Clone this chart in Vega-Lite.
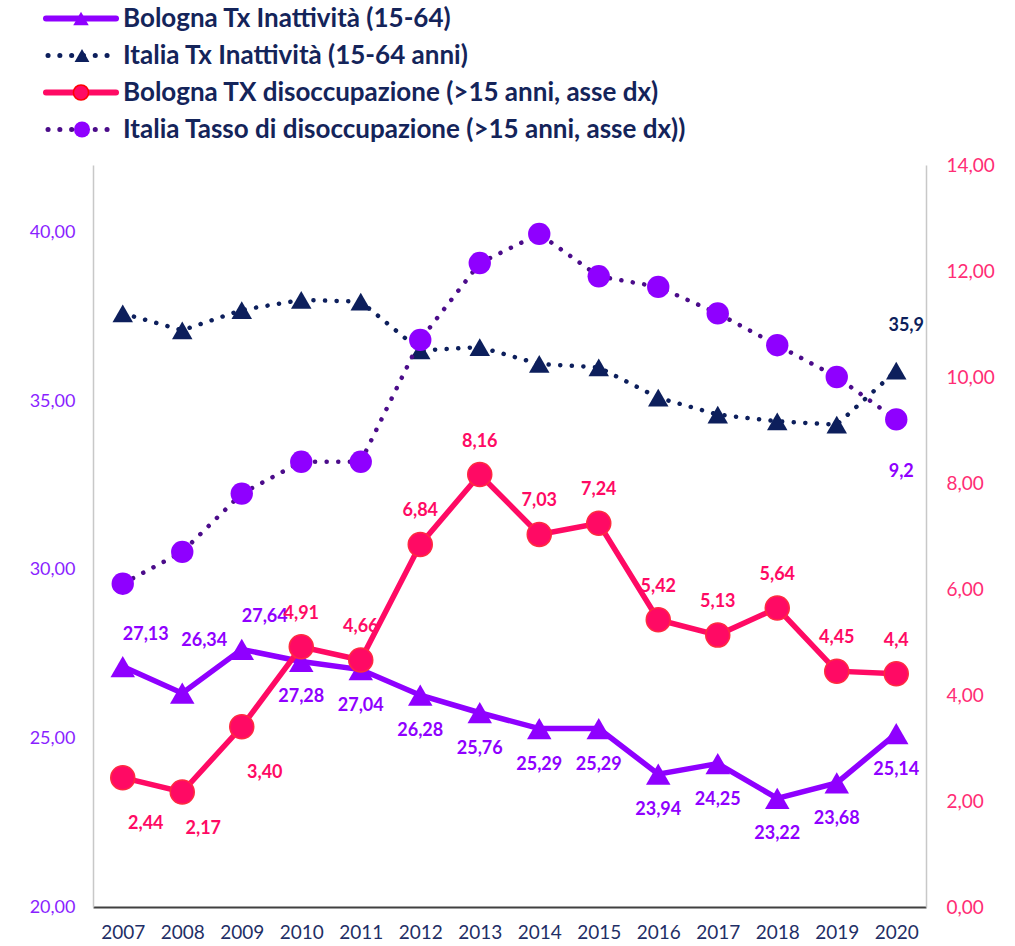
{
  "$schema": "https://vega.github.io/schema/vega-lite/v6.json",
  "padding": {"left": 0, "top": 0, "right": 0, "bottom": 0},
  "spacing": 8,
  "config": {
    "view": {"stroke": null},
    "font": "Lato",
    "locale": {"number": {"decimal": ",", "thousands": ".", "grouping": [3], "currency": ["€", ""]}}
  },
  "datasets": {
    "d": [
      {"year": 2007, "serie": "Bologna Tx Inattività (15-64)", "value": 27.13},
      {"year": 2008, "serie": "Bologna Tx Inattività (15-64)", "value": 26.34},
      {"year": 2009, "serie": "Bologna Tx Inattività (15-64)", "value": 27.64},
      {"year": 2010, "serie": "Bologna Tx Inattività (15-64)", "value": 27.28},
      {"year": 2011, "serie": "Bologna Tx Inattività (15-64)", "value": 27.04},
      {"year": 2012, "serie": "Bologna Tx Inattività (15-64)", "value": 26.28},
      {"year": 2013, "serie": "Bologna Tx Inattività (15-64)", "value": 25.76},
      {"year": 2014, "serie": "Bologna Tx Inattività (15-64)", "value": 25.29},
      {"year": 2015, "serie": "Bologna Tx Inattività (15-64)", "value": 25.29},
      {"year": 2016, "serie": "Bologna Tx Inattività (15-64)", "value": 23.94},
      {"year": 2017, "serie": "Bologna Tx Inattività (15-64)", "value": 24.25},
      {"year": 2018, "serie": "Bologna Tx Inattività (15-64)", "value": 23.22},
      {"year": 2019, "serie": "Bologna Tx Inattività (15-64)", "value": 23.68},
      {"year": 2020, "serie": "Bologna Tx Inattività (15-64)", "value": 25.14},
      {"year": 2007, "serie": "Italia Tx  Inattività  (15-64 anni)", "value": 37.6},
      {"year": 2008, "serie": "Italia Tx  Inattività  (15-64 anni)", "value": 37.1},
      {"year": 2009, "serie": "Italia Tx  Inattività  (15-64 anni)", "value": 37.7},
      {"year": 2010, "serie": "Italia Tx  Inattività  (15-64 anni)", "value": 38.0},
      {"year": 2011, "serie": "Italia Tx  Inattività  (15-64 anni)", "value": 37.95},
      {"year": 2012, "serie": "Italia Tx  Inattività  (15-64 anni)", "value": 36.5},
      {"year": 2013, "serie": "Italia Tx  Inattività  (15-64 anni)", "value": 36.6},
      {"year": 2014, "serie": "Italia Tx  Inattività  (15-64 anni)", "value": 36.1},
      {"year": 2015, "serie": "Italia Tx  Inattività  (15-64 anni)", "value": 36.0},
      {"year": 2016, "serie": "Italia Tx  Inattività  (15-64 anni)", "value": 35.1},
      {"year": 2017, "serie": "Italia Tx  Inattività  (15-64 anni)", "value": 34.6},
      {"year": 2018, "serie": "Italia Tx  Inattività  (15-64 anni)", "value": 34.4},
      {"year": 2019, "serie": "Italia Tx  Inattività  (15-64 anni)", "value": 34.3},
      {"year": 2020, "serie": "Italia Tx  Inattività  (15-64 anni)", "value": 35.9},
      {"year": 2007, "serie": "Bologna TX disoccupazione (>15 anni, asse dx)", "value": 2.44},
      {"year": 2008, "serie": "Bologna TX disoccupazione (>15 anni, asse dx)", "value": 2.17},
      {"year": 2009, "serie": "Bologna TX disoccupazione (>15 anni, asse dx)", "value": 3.40},
      {"year": 2010, "serie": "Bologna TX disoccupazione (>15 anni, asse dx)", "value": 4.91},
      {"year": 2011, "serie": "Bologna TX disoccupazione (>15 anni, asse dx)", "value": 4.66},
      {"year": 2012, "serie": "Bologna TX disoccupazione (>15 anni, asse dx)", "value": 6.84},
      {"year": 2013, "serie": "Bologna TX disoccupazione (>15 anni, asse dx)", "value": 8.16},
      {"year": 2014, "serie": "Bologna TX disoccupazione (>15 anni, asse dx)", "value": 7.03},
      {"year": 2015, "serie": "Bologna TX disoccupazione (>15 anni, asse dx)", "value": 7.24},
      {"year": 2016, "serie": "Bologna TX disoccupazione (>15 anni, asse dx)", "value": 5.42},
      {"year": 2017, "serie": "Bologna TX disoccupazione (>15 anni, asse dx)", "value": 5.13},
      {"year": 2018, "serie": "Bologna TX disoccupazione (>15 anni, asse dx)", "value": 5.64},
      {"year": 2019, "serie": "Bologna TX disoccupazione (>15 anni, asse dx)", "value": 4.45},
      {"year": 2020, "serie": "Bologna TX disoccupazione (>15 anni, asse dx)", "value": 4.4},
      {"year": 2007, "serie": "Italia Tasso di disoccupazione (>15 anni, asse dx))", "value": 6.1},
      {"year": 2008, "serie": "Italia Tasso di disoccupazione (>15 anni, asse dx))", "value": 6.7},
      {"year": 2009, "serie": "Italia Tasso di disoccupazione (>15 anni, asse dx))", "value": 7.8},
      {"year": 2010, "serie": "Italia Tasso di disoccupazione (>15 anni, asse dx))", "value": 8.4},
      {"year": 2011, "serie": "Italia Tasso di disoccupazione (>15 anni, asse dx))", "value": 8.4},
      {"year": 2012, "serie": "Italia Tasso di disoccupazione (>15 anni, asse dx))", "value": 10.7},
      {"year": 2013, "serie": "Italia Tasso di disoccupazione (>15 anni, asse dx))", "value": 12.15},
      {"year": 2014, "serie": "Italia Tasso di disoccupazione (>15 anni, asse dx))", "value": 12.7},
      {"year": 2015, "serie": "Italia Tasso di disoccupazione (>15 anni, asse dx))", "value": 11.9},
      {"year": 2016, "serie": "Italia Tasso di disoccupazione (>15 anni, asse dx))", "value": 11.7},
      {"year": 2017, "serie": "Italia Tasso di disoccupazione (>15 anni, asse dx))", "value": 11.2},
      {"year": 2018, "serie": "Italia Tasso di disoccupazione (>15 anni, asse dx))", "value": 10.6},
      {"year": 2019, "serie": "Italia Tasso di disoccupazione (>15 anni, asse dx))", "value": 10.0},
      {"year": 2020, "serie": "Italia Tasso di disoccupazione (>15 anni, asse dx))", "value": 9.2}
    ]
  },
  "vconcat": [
    {
      "width": 833,
      "height": 148,
      "data": {"name": "d"},
      "transform": [{"filter": {"field": "year", "equal": 2007}}],
      "encoding": {
        "y": {"field": "serie", "type": "nominal", "sort": ["Bologna Tx Inattività (15-64)", "Italia Tx  Inattività  (15-64 anni)", "Bologna TX disoccupazione (>15 anni, asse dx)", "Italia Tasso di disoccupazione (>15 anni, asse dx))"], "scale": {"type": "point", "padding": 0.5}, "axis": null}
      },
      "layer": [
        {
          "transform": [{"filter": {"field": "serie", "equal": "Bologna Tx Inattività (15-64)"}}],
          "mark": {"type": "rule", "color": "#8F00FF", "strokeWidth": 6, "strokeCap": "round"},
          "encoding": {"x": {"datum": 46, "type": "quantitative", "scale": {"domain": [93, 926], "nice": false, "zero": false}, "axis": null}, "x2": {"datum": 116}}
        },
        {
          "transform": [{"filter": {"field": "serie", "equal": "Italia Tx  Inattività  (15-64 anni)"}}],
          "mark": {"type": "rule", "color": "#0D1F5C", "strokeWidth": 5, "strokeCap": "round", "strokeDash": [0.1, 11.7]},
          "encoding": {"x": {"datum": 48, "type": "quantitative"}, "x2": {"datum": 108}}
        },
        {
          "transform": [{"filter": {"field": "serie", "equal": "Bologna TX disoccupazione (>15 anni, asse dx)"}}],
          "mark": {"type": "rule", "color": "#FF0A64", "strokeWidth": 6, "strokeCap": "round"},
          "encoding": {"x": {"datum": 46, "type": "quantitative"}, "x2": {"datum": 116}}
        },
        {
          "transform": [{"filter": {"field": "serie", "equal": "Italia Tasso di disoccupazione (>15 anni, asse dx))"}}],
          "mark": {"type": "rule", "color": "#4B0C8A", "strokeWidth": 5, "strokeCap": "round", "strokeDash": [0.1, 11.7]},
          "encoding": {"x": {"datum": 48, "type": "quantitative"}, "x2": {"datum": 108}}
        },
        {
          "transform": [{"filter": {"field": "serie", "oneOf": ["Bologna Tx Inattività (15-64)"]}}],
          "mark": {"type": "point", "shape": "triangle-up", "filled": true, "color": "#8F00FF", "opacity": 1, "size": 240},
          "encoding": {"x": {"datum": 81, "type": "quantitative"}}
        },
        {
          "transform": [{"filter": {"field": "serie", "oneOf": ["Italia Tx  Inattività  (15-64 anni)"]}}],
          "mark": {"type": "point", "shape": "triangle-up", "filled": true, "color": "#0D1F5C", "opacity": 1, "size": 220},
          "encoding": {"x": {"datum": 82, "type": "quantitative"}}
        },
        {
          "transform": [{"filter": {"field": "serie", "oneOf": ["Bologna TX disoccupazione (>15 anni, asse dx)"]}}],
          "mark": {"type": "point", "shape": "circle", "filled": true, "fill": "#FF0A64", "stroke": "#FF0000", "strokeWidth": 1.5, "opacity": 1, "size": 230},
          "encoding": {"x": {"datum": 81, "type": "quantitative"}}
        },
        {
          "transform": [{"filter": {"field": "serie", "oneOf": ["Italia Tasso di disoccupazione (>15 anni, asse dx))"]}}],
          "mark": {"type": "point", "shape": "circle", "filled": true, "color": "#8F00FF", "opacity": 1, "size": 260},
          "encoding": {"x": {"datum": 82, "type": "quantitative"}}
        },
        {
          "mark": {"type": "text", "align": "left", "baseline": "middle", "font": "Lato", "fontWeight": "bold", "fontSize": 26, "color": "#14245A"},
          "encoding": {"x": {"datum": 123, "type": "quantitative"}, "text": {"field": "serie"}}
        }
      ]
    },
    {
      "width": 833,
      "height": 742,
      "data": {"name": "d"},
      "encoding": {
        "x": {
          "field": "year", "type": "ordinal",
          "scale": {"type": "point", "padding": 0.5},
          "axis": {"title": null, "labelAngle": 0, "ticks": false, "domainColor": "#404040", "domainWidth": 2, "labelColor": "#1F2F66", "labelFont": "Lato", "labelFontSize": 19, "labelPadding": 16}
        }
      },
      "layer": [
        {
          "encoding": {
            "y": {
              "field": "value", "type": "quantitative",
              "scale": {"domain": [20, 42], "nice": false, "zero": false},
              "axis": {"orient": "left", "title": null, "values": [20, 25, 30, 35, 40], "format": ".2f", "ticks": false, "grid": false, "domainColor": "#C8C8C8", "domainWidth": 1.5, "labelColor": "#8A1FFF", "labelFont": "Lato", "labelFontSize": 18, "labelPadding": 18, "minExtent": 93, "maxExtent": 93}
            }
          },
          "layer": [
            {
              "transform": [{"filter": {"field": "serie", "equal": "Italia Tx  Inattività  (15-64 anni)"}}],
              "mark": {"type": "line", "color": "#0D1F5C", "strokeWidth": 4.5, "strokeCap": "round", "strokeDash": [0.1, 11.5]}
            },
            {
              "transform": [{"filter": {"field": "serie", "equal": "Italia Tx  Inattività  (15-64 anni)"}}],
              "mark": {"type": "point", "shape": "triangle-up", "filled": true, "color": "#0D1F5C", "opacity": 1, "size": 420}
            },
            {
              "transform": [{"filter": {"field": "serie", "equal": "Bologna Tx Inattività (15-64)"}}],
              "mark": {"type": "line", "color": "#8F00FF", "strokeWidth": 5.5}
            },
            {
              "transform": [{"filter": {"field": "serie", "equal": "Bologna Tx Inattività (15-64)"}}],
              "mark": {"type": "point", "shape": "triangle-up", "filled": true, "color": "#8F00FF", "opacity": 1, "size": 600}
            },
            {
              "transform": [{"filter": {"and": [{"field": "serie", "equal": "Bologna Tx Inattività (15-64)"}, {"field": "year", "oneOf": [2007, 2009]}]}}],
              "mark": {"type": "text", "font": "Lato", "fontWeight": "bold", "fontSize": 18, "color": "#8F00FF", "dx": 23, "dy": -32},
              "encoding": {"text": {"field": "value", "type": "quantitative", "format": ".2f"}}
            },
            {
              "transform": [{"filter": {"and": [{"field": "serie", "equal": "Bologna Tx Inattività (15-64)"}, {"field": "year", "equal": 2008}]}}],
              "mark": {"type": "text", "font": "Lato", "fontWeight": "bold", "fontSize": 18, "color": "#8F00FF", "dx": 22, "dy": -52},
              "encoding": {"text": {"field": "value", "type": "quantitative", "format": ".2f"}}
            },
            {
              "transform": [{"filter": {"and": [{"field": "serie", "equal": "Bologna Tx Inattività (15-64)"}, {"field": "year", "gte": 2010}]}}],
              "mark": {"type": "text", "font": "Lato", "fontWeight": "bold", "fontSize": 18, "color": "#8F00FF", "dy": 36},
              "encoding": {"text": {"field": "value", "type": "quantitative", "format": ".2f"}}
            },
            {
              "transform": [{"filter": {"and": [{"field": "serie", "equal": "Italia Tx  Inattività  (15-64 anni)"}, {"field": "year", "equal": 2020}]}}],
              "mark": {"type": "text", "font": "Lato", "fontWeight": "bold", "fontSize": 18, "color": "#0D1F5C", "dx": 10, "dy": -45},
              "encoding": {"text": {"field": "value", "type": "quantitative", "format": ".1f"}}
            }
          ]
        },
        {
          "encoding": {
            "y": {
              "field": "value", "type": "quantitative",
              "scale": {"domain": [0, 14], "nice": false},
              "axis": {"orient": "right", "title": null, "values": [0, 2, 4, 6, 8, 10, 12, 14], "format": ".2f", "ticks": false, "grid": false, "domainColor": "#C8C8C8", "domainWidth": 1.5, "labelColor": "#FF2D75", "labelFont": "Lato", "labelFontSize": 19, "labelPadding": 20}
            }
          },
          "layer": [
            {
              "transform": [{"filter": {"field": "serie", "equal": "Italia Tasso di disoccupazione (>15 anni, asse dx))"}}],
              "mark": {"type": "line", "color": "#4B0C8A", "strokeWidth": 4.5, "strokeCap": "round", "strokeDash": [0.1, 11.5]}
            },
            {
              "transform": [{"filter": {"field": "serie", "equal": "Italia Tasso di disoccupazione (>15 anni, asse dx))"}}],
              "mark": {"type": "point", "shape": "circle", "filled": true, "color": "#8F00FF", "opacity": 1, "size": 500}
            },
            {
              "transform": [{"filter": {"field": "serie", "equal": "Bologna TX disoccupazione (>15 anni, asse dx)"}}],
              "mark": {"type": "line", "color": "#FF0A64", "strokeWidth": 5.5}
            },
            {
              "transform": [{"filter": {"field": "serie", "equal": "Bologna TX disoccupazione (>15 anni, asse dx)"}}],
              "mark": {"type": "point", "shape": "circle", "filled": true, "fill": "#FF0A64", "stroke": "#FF2B40", "strokeWidth": 1.5, "opacity": 1, "size": 576}
            },
            {
              "transform": [{"filter": {"and": [{"field": "serie", "equal": "Bologna TX disoccupazione (>15 anni, asse dx)"}, {"field": "year", "oneOf": [2007, 2009]}]}}],
              "mark": {"type": "text", "font": "Lato", "fontWeight": "bold", "fontSize": 18, "color": "#FF0A64", "dx": 23, "dy": 46},
              "encoding": {"text": {"field": "value", "type": "quantitative", "format": ".2f"}}
            },
            {
              "transform": [{"filter": {"and": [{"field": "serie", "equal": "Bologna TX disoccupazione (>15 anni, asse dx)"}, {"field": "year", "equal": 2008}]}}],
              "mark": {"type": "text", "font": "Lato", "fontWeight": "bold", "fontSize": 18, "color": "#FF0A64", "dx": 21, "dy": 37},
              "encoding": {"text": {"field": "value", "type": "quantitative", "format": ".2f"}}
            },
            {
              "transform": [{"filter": {"and": [{"field": "serie", "equal": "Bologna TX disoccupazione (>15 anni, asse dx)"}, {"field": "year", "range": [2010, 2019]}]}}],
              "mark": {"type": "text", "font": "Lato", "fontWeight": "bold", "fontSize": 18, "color": "#FF0A64", "dy": -33},
              "encoding": {"text": {"field": "value", "type": "quantitative", "format": ".2f"}}
            },
            {
              "transform": [{"filter": {"and": [{"field": "serie", "equal": "Bologna TX disoccupazione (>15 anni, asse dx)"}, {"field": "year", "equal": 2020}]}}],
              "mark": {"type": "text", "font": "Lato", "fontWeight": "bold", "fontSize": 18, "color": "#FF0A64", "dy": -33},
              "encoding": {"text": {"field": "value", "type": "quantitative", "format": ".1f"}}
            },
            {
              "transform": [{"filter": {"and": [{"field": "serie", "equal": "Italia Tasso di disoccupazione (>15 anni, asse dx))"}, {"field": "year", "equal": 2020}]}}],
              "mark": {"type": "text", "font": "Lato", "fontWeight": "bold", "fontSize": 18, "color": "#8F00FF", "dx": 5, "dy": 53},
              "encoding": {"text": {"field": "value", "type": "quantitative", "format": ".1f"}}
            }
          ]
        }
      ],
      "resolve": {"scale": {"y": "independent"}, "axis": {"y": "independent"}}
    }
  ]
}
